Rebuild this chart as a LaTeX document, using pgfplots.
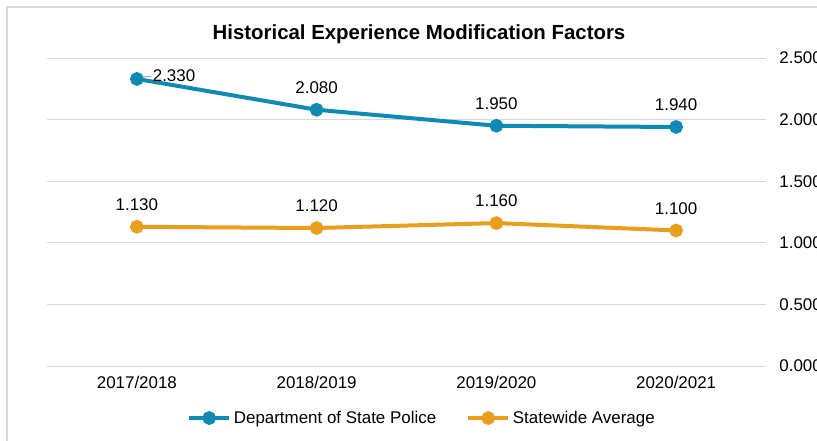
\documentclass[border=0pt]{standalone}
\usepackage{fontspec}
\setmainfont{Liberation Sans}
\usepackage{pgfplots}
\pgfplotsset{compat=1.18}
\definecolor{dspblue}{RGB}{15,138,178}
\definecolor{avgorange}{RGB}{232,158,30}
\definecolor{gridgray}{RGB}{217,217,217}
\definecolor{framegray}{RGB}{217,217,217}
\begin{document}
\begin{tikzpicture}
% 1px = 0.75pt; picture is 817 x 440 px
\path[use as bounding box] (0pt,0pt) rectangle (612.75pt,330pt);
\draw[framegray, line width=1.5pt] (5.6pt,-15pt) -- (5.6pt,324.4pt) -- (630pt,324.4pt);
\node[font=\fontsize{15.3}{18}\selectfont\bfseries] at (314.25pt,304.5pt) {Historical Experience Modification Factors};
\begin{axis}[
  at={(35.25pt,55.5pt)}, anchor=south west,
  scale only axis,
  width=539.25pt, height=231pt,
  xmin=-0.5, xmax=3.5, ymin=0, ymax=2.5,
  xtick={0,1,2,3},
  xticklabels={2017/2018,2018/2019,2019/2020,2020/2021},
  ytick={0,0.5,1,1.5,2,2.5},
  yticklabel pos=right,
  /pgf/number format/.cd, fixed, fixed zerofill, precision=3, assume math mode=true,
  /pgfplots/.cd,
  axis line style={draw=none},
  tick style={draw=none},
  ymajorgrids,
  grid style={gridgray, line width=0.75pt},
  every tick label/.append style={font=\fontsize{12.7}{15}\selectfont},
  yticklabel style={xshift=6.5pt},
  xticklabel style={yshift=-4pt},
  legend style={at={(0.522,-0.169)}, anchor=center, draw=none,
    legend columns=2, font=\fontsize{12.7}{15}\selectfont,
    /tikz/every even column/.append style={column sep=20.5pt},
    nodes={inner xsep=2pt}},
  legend image code/.code={%
    \draw[mark repeat=2,mark phase=2,#1] plot coordinates {(0pt,0pt) (15pt,0pt) (30pt,0pt)};},
  nodes near coords,
  point meta=explicit symbolic,
  every node near coord/.append style={font=\fontsize{12.7}{15}\selectfont, anchor=center, yshift=16.5pt, text=black},
]
\addplot[dspblue, line width=3pt, mark=*, mark size=3.6pt, mark options={solid}]
  table[meta=lab] {
x y lab
0 2.33 {}
1 2.08 2.080
2 1.95 1.950
3 1.94 1.940
};
\addlegendentry{Department of State Police}
\addplot[avgorange, line width=3pt, mark=*, mark size=3.6pt, mark options={solid}]
  table[meta=lab] {
x y lab
0 1.13 1.130
1 1.12 1.120
2 1.16 1.160
3 1.10 1.100
};
\addlegendentry{Statewide Average}
\draw[gray!70, line width=0.75pt] (axis cs:0.02,2.345) -- (axis cs:0.08,2.352);
\node[anchor=west, font=\fontsize{12.7}{15}\selectfont, inner xsep=1pt] at (axis cs:0.08,2.36) {2.330};
\end{axis}
\end{tikzpicture}
\end{document}
